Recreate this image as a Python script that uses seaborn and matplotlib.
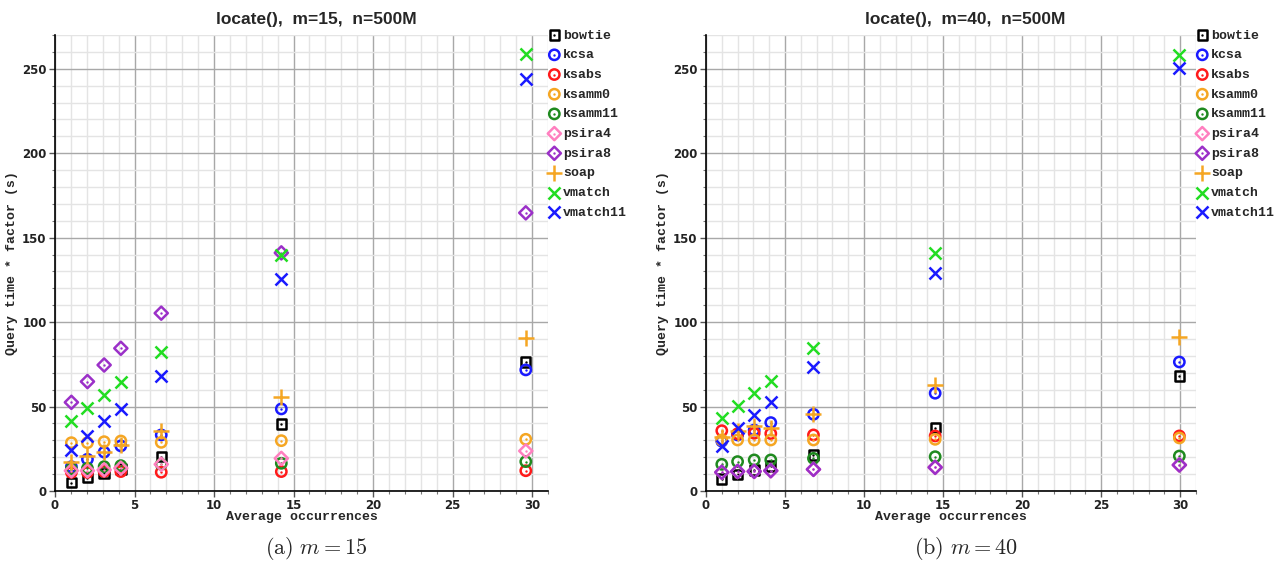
import matplotlib
matplotlib.use("Agg")
import matplotlib.pyplot as plt
from matplotlib.ticker import MultipleLocator
import pandas as pd
import seaborn as sns

series = ["bowtie", "kcsa", "ksabs", "ksamm0", "ksamm11",
          "psira4", "psira8", "soap", "vmatch", "vmatch11"]

# m=15
x_m15 = [1.03, 2.04, 3.09, 4.14, 6.68, 14.23, 29.6]
vals_m15 = {
    "bowtie":   [4.9, 7.9, 10.5, 13.0, 20.3, 39.7, 76.4],
    "kcsa":     [14.4, 18.8, 23.0, 26.7, 33.2, 48.6, 71.7],
    "ksabs":    [11.0, 11.0, 11.6, 11.5, 11.1, 11.5, 12.0],
    "ksamm0":   [28.6, 28.6, 29.2, 29.6, 28.8, 29.8, 30.6],
    "ksamm11":  [13.0, 13.4, 14.4, 15.0, 15.8, 16.4, 17.4],
    "psira4":   [12.0, 12.0, 12.5, 13.5, 15.8, 19.3, 23.7],
    "psira8":   [52.5, 64.8, 74.6, 84.5, 105.3, 141.0, 164.7],
    "soap":     [17.4, 20.7, 23.3, 27.2, 35.5, 55.5, 90.6],
    "vmatch":   [41.5, 49.4, 56.9, 64.8, 82.5, 139.5, 258.9],
    "vmatch11": [24.3, 32.8, 41.5, 48.6, 68.3, 125.6, 244.0],
}

# m=40
x_m40 = [1.0, 2.0, 3.05, 4.1, 6.8, 14.5, 29.95]
vals_m40 = {
    "bowtie":   [7.1, 9.9, 12.4, 14.8, 21.3, 37.5, 68.1],
    "kcsa":     [29.5, 33.2, 36.1, 40.5, 45.4, 57.9, 76.4],
    "ksabs":    [35.7, 33.9, 34.2, 34.0, 33.2, 32.6, 32.6],
    "ksamm0":   [30.2, 30.2, 30.2, 30.2, 30.2, 30.6, 31.4],
    "ksamm11":  [15.8, 17.4, 18.4, 18.4, 19.3, 20.3, 20.7],
    "psira4":   [11.0, 11.5, 11.6, 12.0, 12.8, 14.0, 15.4],
    "psira8":   [11.1, 11.6, 11.6, 12.0, 12.8, 14.0, 15.4],
    "soap":     [32.2, 35.5, 38.5, 37.5, 45.4, 62.8, 91.2],
    "vmatch":   [43.4, 50.5, 57.9, 65.2, 84.5, 141.0, 258.0],
    "vmatch11": [26.9, 37.1, 45.0, 52.5, 73.7, 129.0, 250.6],
}

colors = {
    "bowtie": "#000000", "kcsa": "#1a1aff", "ksabs": "#ff1a1a",
    "ksamm0": "#f5a623", "ksamm11": "#1f8a1f", "psira4": "#ff7fbf",
    "psira8": "#9b30c8", "soap": "#f5a623", "vmatch": "#22dd22",
    "vmatch11": "#1a1aff",
}
markers = {
    "bowtie": ("s", 45), "kcsa": ("o", 55), "ksabs": ("o", 55),
    "ksamm0": ("o", 55), "ksamm11": ("o", 55), "psira4": ("D", 45),
    "psira8": ("D", 45), "soap": ("+", 130), "vmatch": ("x", 75),
    "vmatch11": ("x", 75),
}


def long_form(xs, vals):
    rows = []
    for name in series:
        for xv, yv in zip(xs, vals[name]):
            rows.append({"series": name, "occ": xv, "qt": yv})
    return pd.DataFrame(rows)


sns.set_theme(style="white")
plt.rcParams["mathtext.fontset"] = "cm"

mono = {"family": "Liberation Mono", "weight": "bold"}

fig = plt.figure(figsize=(12.85, 5.65), dpi=100)
ax1 = fig.add_axes([0.0428, 0.131, 0.3837, 0.807])
ax2 = fig.add_axes([0.5494, 0.131, 0.3813, 0.807])

panels = [(ax1, long_form(x_m15, vals_m15), "locate(),  m=15,  n=500M", r"$\mathrm{(a)}\ m = 15$"),
          (ax2, long_form(x_m40, vals_m40), "locate(),  m=40,  n=500M", r"$\mathrm{(b)}\ m = 40$")]

for ax, df, title, caption in panels:
    handles = []
    for name in series:
        sub = df[df["series"] == name]
        c = colors[name]
        mk, sz = markers[name]
        before = len(ax.collections)
        if mk in ("+", "x"):
            sns.scatterplot(data=sub, x="occ", y="qt", ax=ax, marker=mk, s=sz,
                            color=c, linewidth=1.8, legend=False, zorder=3)
            handles.append(ax.collections[before])
        else:
            sns.scatterplot(data=sub, x="occ", y="qt", ax=ax, marker=mk, s=sz,
                            facecolor="none", edgecolor=c, linewidth=1.8,
                            legend=False, zorder=3)
            sns.scatterplot(data=sub, x="occ", y="qt", ax=ax, marker="o", s=3,
                            color=c, linewidth=0, legend=False, zorder=3)
            handles.append((ax.collections[before], ax.collections[before + 1]))

    ax.set_xlim(0, 31)
    ax.set_ylim(0, 270)
    ax.xaxis.set_major_locator(MultipleLocator(5))
    ax.xaxis.set_minor_locator(MultipleLocator(1))
    ax.yaxis.set_major_locator(MultipleLocator(50))
    ax.yaxis.set_minor_locator(MultipleLocator(10))
    ax.grid(which="major", color="#a8a8a8", linewidth=1.0, zorder=0)
    ax.grid(which="minor", color="#e4e4e4", linewidth=1.0, zorder=0)
    ax.set_axisbelow(True)
    for side in ("top", "right"):
        ax.spines[side].set_visible(False)
    for side in ("left", "bottom"):
        ax.spines[side].set_color("black")
        ax.spines[side].set_linewidth(1.2)
    ax.tick_params(which="major", direction="out", length=4, width=1,
                   color="#555555", bottom=True, left=True, pad=2)
    ax.tick_params(which="minor", direction="out", length=2.5, width=0.8,
                   color="#777777", bottom=True, left=True)
    for lab in ax.get_xticklabels() + ax.get_yticklabels():
        lab.set_fontweight("bold")
        lab.set_fontsize(8.5)
        lab.set_color("#222222")

    ax.set_xlabel("Average occurrences", fontdict=mono, fontsize=9.5, labelpad=-1)
    ax.set_ylabel("Query time * factor (s)", fontdict=mono, fontsize=9.5, labelpad=3)
    ax.set_title(title, fontfamily="Liberation Sans", fontweight="bold",
                 fontsize=12.5, pad=8, x=0.53)

    leg = ax.legend(handles, series, loc="upper left", bbox_to_anchor=(0.99, 1.024),
                    frameon=False, handlelength=0.9, handletextpad=0.2,
                    labelspacing=0.565, borderaxespad=0,
                    prop={"family": "Liberation Mono", "weight": "bold", "size": 9.5})

    pos = ax.get_position()
    fig.text(pos.x0 + pos.width * 0.53, 0.03, caption, ha="center", va="center",
             fontsize=16)

fig.savefig("out.png", dpi=100)
